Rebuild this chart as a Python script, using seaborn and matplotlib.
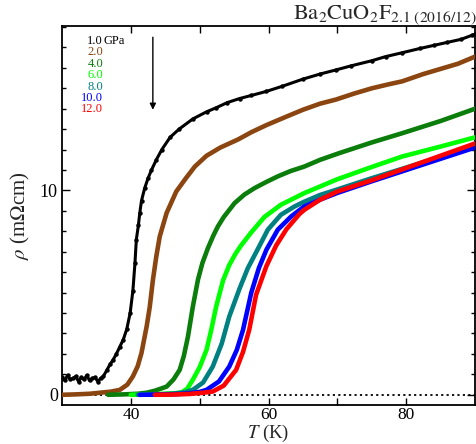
import numpy as np
import pandas as pd
import matplotlib
matplotlib.use("Agg")
import matplotlib.pyplot as plt
import seaborn as sns

# Resistivity curves of Ba2CuO2F2.1 under pressure: temperature (K) and rho (mOhm cm)
pressures = ["1.0", "2.0", "4.0", "6.0", "8.0", "10.0", "12.0"]
colors = ["#000000", "#8B4510", "#0A7D0A", "#00FF00", "#008080", "#0000FF", "#FF0000"]

T_1p0 = [30.0, 30.4, 30.8, 31.2, 31.6, 32.0, 32.4, 32.8, 33.2, 33.6, 34.0, 34.4, 34.8,
         35.2, 35.6, 36.0, 36.5, 37.0, 37.4, 37.9, 38.4, 38.9, 39.4, 39.9, 40.3, 40.6,
         40.8, 41.1, 41.3, 41.55, 42.0, 42.5, 43.0, 43.7, 44.5, 45.7, 47.0, 49.0, 51.0,
         52.4, 54.0, 55.8, 57.5, 59.7, 62.0, 65.0, 67.5, 69.8, 72.0, 75.0, 77.0, 79.4,
         82.0, 84.0, 86.0, 88.0, 89.6, 90.0]
rho_1p0 = [0.85, 0.7, 0.95, 0.75, 0.8, 0.9, 0.65, 0.85, 0.75, 0.95, 0.7, 0.8, 0.85,
           0.65, 0.8, 0.9, 1.2, 1.5, 1.7, 2.0, 2.35, 2.7, 3.2, 4.0, 5.1, 6.45,
           7.6, 8.3, 8.9, 9.5, 10.1, 10.6, 11.0, 11.5, 12.0, 12.6, 13.0, 13.5, 13.85,
           14.05, 14.3, 14.5, 14.65, 14.85, 15.1, 15.45, 15.7, 15.9, 16.1, 16.35, 16.55, 16.74,
           16.95, 17.1, 17.25, 17.4, 17.6, 17.65]

T_2p0 = [30.0, 32.0, 34.0, 35.5, 37.0, 38.4, 39.5, 40.3, 41.0, 41.55, 42.3, 42.75, 43.2,
         43.7, 44.2, 45.2, 46.6, 48.0, 49.3, 51.0, 53.0, 55.6, 57.5, 59.7, 62.5, 65.0,
         67.5, 69.8, 72.5, 75.0, 77.5, 79.4, 82.5, 85.0, 87.5, 90.0]
rho_2p0 = [0.0, 0.02, 0.05, 0.1, 0.15, 0.24, 0.5, 0.9, 1.4, 2.05, 3.35, 4.3, 5.6,
           6.77, 7.75, 8.9, 9.95, 10.6, 11.17, 11.7, 12.1, 12.5, 12.85, 13.2, 13.6, 13.95,
           14.25, 14.45, 14.75, 15.0, 15.2, 15.34, 15.7, 15.95, 16.2, 16.55]

T_4p0 = [36.7, 39.0, 41.0, 42.3, 43.5, 45.2, 46.2, 47.1, 47.7, 48.3, 49.0, 49.75, 50.4,
         51.2, 52.0, 52.65, 53.5, 55.07, 56.5, 58.0, 59.7, 61.35, 63.2, 65.2, 67.5,
         70.3, 75.0, 79.4, 85.0, 90.0]
rho_4p0 = [0.0, 0.02, 0.05, 0.1, 0.2, 0.4, 0.75, 1.22, 1.9, 2.85, 4.3, 5.63, 6.45,
           7.18, 7.8, 8.24, 8.7, 9.38, 9.8, 10.12, 10.42, 10.69, 10.95, 11.17, 11.5,
           11.83, 12.35, 12.8, 13.4, 14.0]

T_6p0 = [40.0, 43.0, 45.0, 46.5, 47.4, 48.2, 49.0, 50.0, 51.0, 51.7, 52.4, 53.4, 54.3,
         55.2, 56.0, 57.5, 59.4, 61.8, 65.2, 70.0, 75.0, 79.4, 85.0, 90.0]
rho_6p0 = [0.0, 0.02, 0.05, 0.08, 0.12, 0.3, 0.73, 1.35, 2.2, 3.2, 4.32, 5.6, 6.35,
           6.9, 7.3, 7.95, 8.7, 9.3, 9.87, 10.55, 11.15, 11.66, 12.15, 12.6]

T_8p0 = [41.0, 44.0, 46.0, 47.5, 49.0, 50.5, 51.9, 53.2, 54.3, 55.8, 57.0, 58.4, 59.9,
         61.8, 63.8, 65.2, 67.5, 70.0, 75.0, 80.0, 85.0, 90.0]
rho_8p0 = [0.0, 0.02, 0.05, 0.1, 0.24, 0.6, 1.38, 2.5, 3.83, 5.2, 6.2, 7.1, 8.08,
           8.81, 9.22, 9.45, 9.78, 10.05, 10.6, 11.12, 11.65, 12.2]

T_10p0 = [41.3, 44.0, 46.5, 48.5, 50.0, 51.0, 52.8, 54.3, 55.4, 56.3, 57.5, 58.6, 59.7,
          61.35, 63.3, 65.2, 67.5, 70.0, 75.0, 80.0, 85.0, 90.0]
rho_10p0 = [0.0, 0.01, 0.03, 0.07, 0.14, 0.24, 0.65, 1.38, 2.2, 3.18, 5.0, 6.2, 7.1,
            8.08, 8.73, 9.22, 9.55, 9.88, 10.45, 11.0, 11.55, 12.1]

T_12p0 = [43.5, 46.0, 48.5, 50.5, 51.9, 53.5, 55.3, 56.3, 57.2, 58.2, 59.7, 61.1, 62.6,
          64.5, 65.2, 67.5, 70.0, 75.0, 80.0, 85.0, 90.0]
rho_12p0 = [0.0, 0.01, 0.04, 0.1, 0.16, 0.45, 1.22, 2.1, 3.18, 4.9, 6.3, 7.3, 8.1,
            8.85, 9.05, 9.55, 9.95, 10.5, 11.1, 11.7, 12.3]

series_T = [T_1p0, T_2p0, T_4p0, T_6p0, T_8p0, T_10p0, T_12p0]
series_rho = [rho_1p0, rho_2p0, rho_4p0, rho_6p0, rho_8p0, rho_10p0, rho_12p0]

frames = []
for p, t, r in zip(pressures, series_T, series_rho):
    frames.append(pd.DataFrame({"T": t, "rho": r, "P": p}))
df = pd.concat(frames, ignore_index=True)

sns.set_theme(style="ticks")
plt.rcParams["font.family"] = ["Liberation Serif", "DejaVu Serif"]
plt.rcParams["mathtext.fontset"] = "stix"

fig = plt.figure(figsize=(4.76, 4.44), dpi=100)
ax = fig.add_axes([62 / 476, 39 / 444, 413 / 476, 379 / 444])

# zero-resistance reference
ax.axhline(0, color="black", lw=1.3, ls=(0, (1.2, 1.8)), zorder=1)

palette = dict(zip(pressures, colors))
black = df[df["P"] == "1.0"]
rest = df[df["P"] != "1.0"]

sns.lineplot(data=black, x="T", y="rho", color="black", lw=2.2, marker="o",
             markersize=3.2, markeredgewidth=0, sort=False, estimator=None,
             legend=False, ax=ax, zorder=3)
sns.lineplot(data=rest, x="T", y="rho", hue="P", hue_order=pressures[1:],
             palette=palette, lw=3.3, sort=False, estimator=None,
             legend=False, ax=ax, zorder=3)

ax.set_xlim(30, 90)
ax.set_ylim(-0.5, 18.05)
ax.set_xticks([40, 60, 80])
ax.set_xticks([50, 70], minor=True)
ax.set_yticks([0, 10])
ax.set_yticks(np.arange(0, 19, 1), minor=True)

for s in ax.spines.values():
    s.set_linewidth(1.3)
    s.set_color("black")

ax.tick_params(which="both", direction="in", top=True, right=True,
               colors="black", width=1.0)
ax.tick_params(axis="x", which="both", length=5, pad=1.5, labelsize=12.5)
ax.tick_params(axis="y", which="major", length=6, pad=3, labelsize=13)
ax.tick_params(axis="y", which="minor", length=3)

ax.set_xlabel("$T$ (K)", fontsize=13.5, labelpad=0)
ax.set_ylabel(r"$\rho$ (m$\Omega$cm)", fontsize=15, labelpad=6)

ax.text(1.004, 1.018, r"$\mathrm{Ba_2CuO_2F_{2.1\ (2016/12)}}$", transform=ax.transAxes,
        ha="right", va="baseline", fontsize=16)

# pressure labels
x_lab = (103 - 62) / 413
y0 = (405 - 41) / 379
dy = 11.4 / 379
lab_size = 9
ax.text(x_lab, y0, "1.0", color=colors[0], ha="right", va="center",
        fontsize=lab_size, transform=ax.transAxes)
ax.text(x_lab, y0, "GPa", color=colors[0], ha="left", va="center",
        fontsize=lab_size, transform=ax.transAxes)
for i, (p, c) in enumerate(zip(pressures[1:], colors[1:]), start=1):
    ax.text(x_lab, y0 - i * dy, p, color=c, ha="right", va="center",
            fontsize=lab_size, transform=ax.transAxes)

ax.annotate("", xy=(43.2, 13.95), xytext=(43.2, 17.5),
            arrowprops=dict(arrowstyle="-|>", color="black", lw=1.0,
                            mutation_scale=9, shrinkA=0, shrinkB=0))

fig.savefig("out.png", dpi=100)
